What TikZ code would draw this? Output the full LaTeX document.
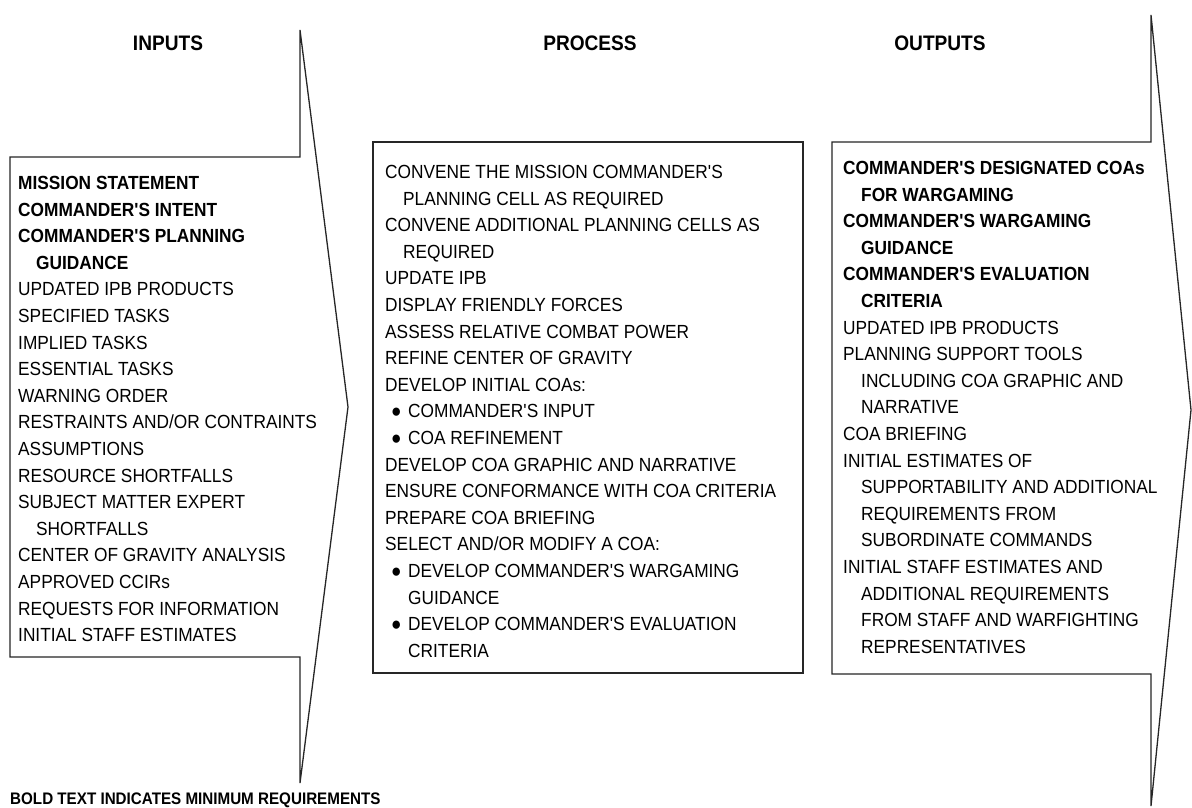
\documentclass[tikz,border=0pt]{standalone}
\usepackage{fontspec}
\setmainfont{Liberation Sans}[FakeStretch=0.91]
\newfontfamily\arialish{Liberation Sans}[FakeStretch=0.91]
\begin{document}
\begin{tikzpicture}[x=1pt,y=-1pt,
  outline/.style={draw=black!85,line width=1.3pt,line join=miter},
  body/.style={anchor=north west,inner sep=0pt,align=left,font=\arialish\fontsize{19}{26.6}\selectfont},
  header/.style={inner sep=0pt,font=\arialish\fontsize{21}{24}\selectfont\bfseries},
  note/.style={anchor=base west,inner sep=0pt,font=\arialish\fontsize{16.7}{20}\selectfont\bfseries}]
\newcommand{\ind}{\hspace*{18pt}}
\newcommand{\bul}{\hspace*{6pt}\makebox[17pt][l]{●}}
\newcommand{\bulind}{\hspace*{23pt}}
\useasboundingbox (0,0) rectangle (1192,808);
\fill[white] (0,0) rectangle (1192,808);
% shapes
\draw[outline] (10,157) -- (300,157) -- (300,30) -- (348,407) -- (300,783) -- (300,657) -- (10,657) -- cycle;
\draw[outline] (373,142) rectangle (803,673);
\draw[outline] (832,142) -- (1151,142) -- (1151,15) -- (1191,410) -- (1151,806) -- (1151,674) -- (832,674) -- cycle;
% headers
\node[header] (hin) at (168,43) {INPUTS};
\node[header] (hpr) at (590,43) {PROCESS};
\node[header] (hout) at (940,43) {OUTPUTS};
% inputs
\node[body] (inputs) at (18,176) {%
\textbf{MISSION STATEMENT}\\
\textbf{COMMANDER'S INTENT}\\
\textbf{COMMANDER'S PLANNING}\\
\ind\textbf{GUIDANCE}\\
UPDATED IPB PRODUCTS\\
SPECIFIED TASKS\\
IMPLIED TASKS\\
ESSENTIAL TASKS\\
WARNING ORDER\\
RESTRAINTS AND/OR CONTRAINTS\\
ASSUMPTIONS\\
RESOURCE SHORTFALLS\\
SUBJECT MATTER EXPERT\\
\ind SHORTFALLS\\
CENTER OF GRAVITY ANALYSIS\\
APPROVED CCIRs\\
REQUESTS FOR INFORMATION\\
INITIAL STAFF ESTIMATES};
% process
\node[body] (process) at (385,165) {%
CONVENE THE MISSION COMMANDER'S\\
\ind PLANNING CELL AS REQUIRED\\
CONVENE ADDITIONAL PLANNING CELLS AS\\
\ind REQUIRED\\
UPDATE IPB\\
DISPLAY FRIENDLY FORCES\\
ASSESS RELATIVE COMBAT POWER\\
REFINE CENTER OF GRAVITY\\
DEVELOP INITIAL COAs:\\
\bul COMMANDER'S INPUT\\
\bul COA REFINEMENT\\
DEVELOP COA GRAPHIC AND NARRATIVE\\
ENSURE CONFORMANCE WITH COA CRITERIA\\
PREPARE COA BRIEFING\\
SELECT AND/OR MODIFY A COA:\\
\bul DEVELOP COMMANDER'S WARGAMING\\
\bulind GUIDANCE\\
\bul DEVELOP COMMANDER'S EVALUATION\\
\bulind CRITERIA};
% outputs
\node[body] (outputs) at (843,161) {%
\textbf{COMMANDER'S DESIGNATED COAs}\\
\ind\textbf{FOR WARGAMING}\\
\textbf{COMMANDER'S WARGAMING}\\
\ind\textbf{GUIDANCE}\\
\textbf{COMMANDER'S EVALUATION}\\
\ind\textbf{CRITERIA}\\
UPDATED IPB PRODUCTS\\
PLANNING SUPPORT TOOLS\\
\ind INCLUDING COA GRAPHIC AND\\
\ind NARRATIVE\\
COA BRIEFING\\
INITIAL ESTIMATES OF\\
\ind SUPPORTABILITY AND ADDITIONAL\\
\ind REQUIREMENTS FROM\\
\ind SUBORDINATE COMMANDS\\
INITIAL STAFF ESTIMATES AND\\
\ind ADDITIONAL REQUIREMENTS\\
\ind FROM STAFF AND WARFIGHTING\\
\ind REPRESENTATIVES};
\node[note] (legend) at (10,804) {BOLD TEXT INDICATES MINIMUM REQUIREMENTS};
\end{tikzpicture}
\end{document}
